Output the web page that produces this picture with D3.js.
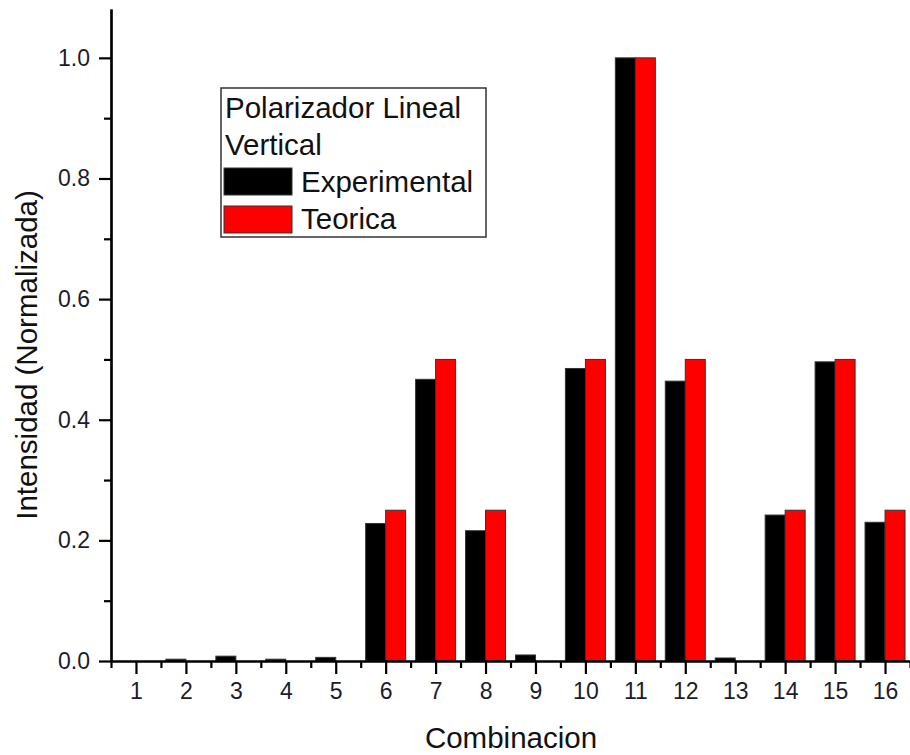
<!DOCTYPE html>
<html>
<head>
<meta charset="utf-8">
<script src="https://cdn.jsdelivr.net/npm/d3@7"></script>
<style>
  body { margin: 0; background: #fff; }
  text { font-family: Arial, "Liberation Sans", sans-serif; }
</style>
</head>
<body>
<div id="chart"></div>
<script>
// data
var combinaciones = [1, 2, 3, 4, 5, 6, 7, 8, 9, 10, 11, 12, 13, 14, 15, 16];
var experimental = [0, 0.003, 0.008, 0.003, 0.006, 0.228, 0.467, 0.216, 0.01, 0.485, 1.0, 0.464, 0.005, 0.242, 0.496, 0.23];
var teorica = [0, 0, 0, 0, 0, 0.25, 0.5, 0.25, 0, 0.5, 1.0, 0.5, 0, 0.25, 0.5, 0.25];
var yTicks = [0, 0.2, 0.4, 0.6, 0.8, 1.0];
var yMinor = [0.1, 0.3, 0.5, 0.7, 0.9];
var legendTitle = ["Polarizador Lineal", "Vertical"];
var seriesNames = ["Experimental", "Teorica"];
var seriesColors = ["#000000", "#ff0000"];

var svgWidth = 910;
var svgHeight = 755;

var margin = { top: 9, left: 111, right: 0, bottom: 94 };
var chartWidth = svgWidth - margin.left - margin.right;
var chartHeight = svgHeight - margin.top - margin.bottom;

var svg = d3.select("#chart")
    .append("svg")
    .attr("width", svgWidth)
    .attr("height", svgHeight);

var chartGroup = svg.append("g")
    .attr("transform", `translate(${margin.left}, ${margin.top})`);

// scales
var xScale = d3.scaleLinear()
    .domain([0.5, 16.5])
    .range([0, chartWidth]);

var yScale = d3.scaleLinear()
    .domain([0, 1.081])
    .range([chartHeight, 0]);

var barWidth = 20;

// bars
var rows = combinaciones.map(function (c, i) {
    return { c: c, exp: experimental[i], teo: teorica[i] };
});

chartGroup.selectAll(".bar-exp")
    .data(rows)
    .enter()
    .append("rect")
    .attr("class", "bar-exp")
    .attr("x", d => xScale(d.c) - barWidth)
    .attr("y", d => yScale(d.exp))
    .attr("width", barWidth)
    .attr("height", d => chartHeight - yScale(d.exp))
    .attr("fill", seriesColors[0])
    .attr("stroke", "#333")
    .attr("stroke-width", 1);

chartGroup.selectAll(".bar-teo")
    .data(rows)
    .enter()
    .append("rect")
    .attr("class", "bar-teo")
    .attr("x", d => xScale(d.c))
    .attr("y", d => yScale(d.teo))
    .attr("width", barWidth)
    .attr("height", d => chartHeight - yScale(d.teo))
    .attr("fill", seriesColors[1])
    .attr("stroke", "#333")
    .attr("stroke-width", 1);

// axes
var xAxis = d3.axisBottom(xScale)
    .tickValues(combinaciones)
    .tickFormat(d3.format("d"))
    .tickSize(13)
    .tickSizeOuter(0)
    .tickPadding(9);

var xMinorAxis = d3.axisBottom(xScale)
    .tickValues(combinaciones.map(c => c - 0.5).concat([16.5]))
    .tickFormat("")
    .tickSize(7)
    .tickSizeOuter(0);

var yAxis = d3.axisLeft(yScale)
    .tickValues(yTicks)
    .tickFormat(d3.format(".1f"))
    .tickSize(12)
    .tickSizeOuter(0)
    .tickPadding(9);

var yMinorAxis = d3.axisLeft(yScale)
    .tickValues(yMinor)
    .tickFormat("")
    .tickSize(7)
    .tickSizeOuter(0);

chartGroup.append("g")
    .attr("transform", `translate(0, ${chartHeight})`)
    .call(xAxis);
chartGroup.append("g")
    .attr("transform", `translate(0, ${chartHeight})`)
    .call(xMinorAxis);
chartGroup.append("g").call(yAxis);
chartGroup.append("g").call(yMinorAxis);

chartGroup.selectAll(".domain, .tick line")
    .attr("stroke", "#000")
    .attr("stroke-width", 2.2);

chartGroup.selectAll(".tick text")
    .attr("fill", "#1c1c2a")
    .style("font-size", "23px");

// axis titles
svg.append("text")
    .attr("x", 511)
    .attr("y", 748)
    .attr("text-anchor", "middle")
    .style("font-size", "29.5px")
    .attr("fill", "#111")
    .text("Combinacion");

svg.append("text")
    .attr("transform", "translate(37, 355) rotate(-90)")
    .attr("text-anchor", "middle")
    .style("font-size", "29.5px")
    .attr("fill", "#111")
    .text("Intensidad (Normalizada)");

// legend
var legend = svg.append("g").attr("transform", "translate(221, 88)");

legend.append("rect")
    .attr("x", 0)
    .attr("y", 0)
    .attr("width", 265)
    .attr("height", 149)
    .attr("fill", "#fff")
    .attr("stroke", "#333")
    .attr("stroke-width", 1.5);

legend.selectAll(".ltitle")
    .data(legendTitle)
    .enter()
    .append("text")
    .attr("x", 4)
    .attr("y", (d, i) => 30 + i * 37)
    .style("font-size", "29.5px")
    .attr("fill", "#111")
    .text(d => d);

seriesNames.forEach(function (name, i) {
    legend.append("rect")
        .attr("x", 3)
        .attr("y", 80 + i * 38)
        .attr("width", 68)
        .attr("height", 27)
        .attr("fill", seriesColors[i])
        .attr("stroke", "#333")
        .attr("stroke-width", 1);
    legend.append("text")
        .attr("x", 80)
        .attr("y", 104 + i * 37)
        .style("font-size", "29.5px")
        .attr("fill", "#111")
        .text(name);
});
</script>
</body>
</html>
